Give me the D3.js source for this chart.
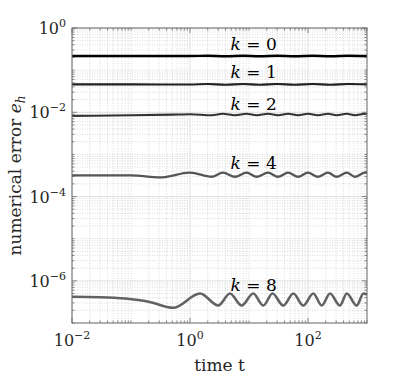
<!DOCTYPE html>
<html lang="en">
<head>
  <meta charset="UTF-8" />
  <script src="https://cdn.jsdelivr.net/npm/d3@7"></script>
  <style>
    body { margin: 0; background: #fff; }
    text { font-family: "DejaVu Serif", serif; fill: #262626; }
  </style>
</head>
<body>
  <svg width="409" height="379"></svg>
  <script>
    // series: time t and error e_h for each k
    const kValues = [0, 1, 2, 4, 8];

    const k0Time = [0.01, 0.1, 1, 2, 4, 8, 15, 30, 60, 120, 240, 480, 1000];
    const k0Err = [0.217, 0.217, 0.216, 0.219, 0.214, 0.220, 0.214, 0.220, 0.214, 0.220, 0.214, 0.220, 0.217];

    const k1Time = [0.01, 0.1, 1, 2, 4, 8, 15, 30, 60, 120, 240, 480, 1000];
    const k1Err = [0.046, 0.046, 0.0455, 0.047, 0.045, 0.047, 0.045, 0.047, 0.045, 0.047, 0.045, 0.047, 0.046];

    const k2Time = [0.01, 0.1, 0.5, 1.0, 2.33, 3.6, 5.8, 9.1, 13.5, 21, 31, 46, 68, 100, 147, 218, 305, 455, 623, 925, 1000];
    const k2Err = [0.0082, 0.0085, 0.0088, 0.0090, 0.0085, 0.0092, 0.0085, 0.0092, 0.0085, 0.0092, 0.0085, 0.0092, 0.0085, 0.0092, 0.0085, 0.0092, 0.0085, 0.0092, 0.0085, 0.0092, 0.0090];

    const k4Time = [0.01, 0.1, 0.31, 1.0, 2.33, 3.6, 5.8, 9.1, 13.5, 21, 31, 46, 68, 100, 147, 218, 305, 455, 623, 925, 1000];
    const k4Err = [3.2e-4, 3.2e-4, 2.84e-4, 3.7e-4, 2.95e-4, 3.7e-4, 2.95e-4, 3.7e-4, 2.95e-4, 3.7e-4, 2.95e-4, 3.7e-4, 2.95e-4, 3.7e-4, 2.95e-4, 3.7e-4, 2.95e-4, 3.7e-4, 2.95e-4, 3.7e-4, 3.65e-4];

    const k8Time = [0.01, 0.03, 0.08, 0.2, 0.52, 1.48, 3.02, 4.76, 7.5, 11.8, 17.5, 25, 38, 56.5, 83, 123, 171, 236, 348, 454, 670, 869, 1000];
    const k8Err = [4.2e-7, 4.1e-7, 3.8e-7, 3.2e-7, 2.3e-7, 5.0e-7, 2.6e-7, 5.0e-7, 2.6e-7, 5.0e-7, 2.6e-7, 5.0e-7, 2.6e-7, 5.0e-7, 2.6e-7, 5.0e-7, 2.6e-7, 5.0e-7, 2.6e-7, 5.0e-7, 2.6e-7, 5.0e-7, 4.7e-7];

    const xTickExp = [-2, 0, 2];
    const yTickExp = [-6, -4, -2, 0];

    const seriesTime = [k0Time, k1Time, k2Time, k4Time, k8Time];
    const seriesErr = [k0Err, k1Err, k2Err, k4Err, k8Err];
    const colors = ["#000000", "#202020", "#333333", "#555555", "#626262"];
    const widths = [2.4, 2.1, 2.1, 2.3, 2.6];

    const svg = d3.select("svg");
    const plotL = 72, plotR = 367, plotT = 28, plotB = 323;

    const x = d3.scaleLog().domain([1e-2, 1e3]).range([plotL, plotR]);
    const y = d3.scaleLog().domain([1e-7, 1]).range([plotB, plotT]);

    // minor values (every 1..9 x decade)
    const xMinor = [];
    for (let e = -2; e < 3; e++) for (let m = 1; m < 10; m++) xMinor.push(m * Math.pow(10, e));
    xMinor.push(1e3);
    const yMinor = [];
    for (let e = -7; e < 0; e++) for (let m = 1; m < 10; m++) yMinor.push(m * Math.pow(10, e));
    yMinor.push(1);

    const isMajorX = v => xTickExp.some(e => Math.abs(Math.log10(v) - e) < 1e-9);
    const isMajorY = v => yTickExp.some(e => Math.abs(Math.log10(v) - e) < 1e-9);

    const grid = svg.append("g");
    // minor grid
    grid.selectAll(".gx").data(xMinor.filter(v => !isMajorX(v))).enter().append("line")
      .attr("x1", d => x(d)).attr("x2", d => x(d)).attr("y1", plotT).attr("y2", plotB)
      .attr("stroke", "#c4c4c4").attr("stroke-width", 0.6).attr("stroke-dasharray", "1,1.5");
    grid.selectAll(".gy").data(yMinor.filter(v => !isMajorY(v))).enter().append("line")
      .attr("y1", d => y(d)).attr("y2", d => y(d)).attr("x1", plotL).attr("x2", plotR)
      .attr("stroke", "#c4c4c4").attr("stroke-width", 0.6).attr("stroke-dasharray", "1,1.5");
    // major grid
    grid.selectAll(".mx").data(xTickExp).enter().append("line")
      .attr("x1", d => x(Math.pow(10, d))).attr("x2", d => x(Math.pow(10, d)))
      .attr("y1", plotT).attr("y2", plotB)
      .attr("stroke", "#e0e0e0").attr("stroke-width", 1);
    grid.selectAll(".my").data(yTickExp).enter().append("line")
      .attr("y1", d => y(Math.pow(10, d))).attr("y2", d => y(Math.pow(10, d)))
      .attr("x1", plotL).attr("x2", plotR)
      .attr("stroke", "#e0e0e0").attr("stroke-width", 1);

    // curves
    const line = d3.line()
      .x(d => x(d[0]))
      .y(d => y(d[1]))
      .curve(d3.curveMonotoneX);

    kValues.forEach((k, i) => {
      const pts = seriesTime[i].map((t, j) => [t, seriesErr[i][j]]);
      svg.append("path")
        .attr("d", line(pts))
        .attr("fill", "none")
        .attr("stroke", colors[i])
        .attr("stroke-width", widths[i])
        .attr("stroke-linejoin", "round");

      const lab = svg.append("text")
        .attr("x", x(12))
        .attr("y", y(seriesErr[i][0]) - 6)
        .attr("text-anchor", "middle")
        .attr("font-size", 17)
        .style("fill", "#000");
      lab.append("tspan").attr("font-style", "italic").text("k");
      lab.append("tspan").text(" = " + k);
    });

    // ticks, inside on all four sides
    const ticks = svg.append("g").attr("stroke", "#5a5a5a").attr("stroke-width", 0.7);
    xMinor.forEach(v => {
      const len = isMajorX(v) ? 5 : 2.5;
      ticks.append("line").attr("x1", x(v)).attr("x2", x(v)).attr("y1", plotB).attr("y2", plotB - len);
      ticks.append("line").attr("x1", x(v)).attr("x2", x(v)).attr("y1", plotT).attr("y2", plotT + len);
    });
    yMinor.forEach(v => {
      const len = isMajorY(v) ? 5 : 2.5;
      ticks.append("line").attr("y1", y(v)).attr("y2", y(v)).attr("x1", plotL).attr("x2", plotL + len);
      ticks.append("line").attr("y1", y(v)).attr("y2", y(v)).attr("x1", plotR).attr("x2", plotR - len);
    });

    // box
    svg.append("rect")
      .attr("x", plotL).attr("y", plotT)
      .attr("width", plotR - plotL).attr("height", plotB - plotT)
      .attr("fill", "none").attr("stroke", "#6a6a6a").attr("stroke-width", 1);

    // tick labels
    const powLabel = (sel, e) => {
      sel.append("tspan").text("10");
      sel.append("tspan").attr("dy", -7).attr("font-size", 11)
        .text(e < 0 ? "\u2212" + (-e) : String(e));
    };
    xTickExp.forEach(e => {
      const t = svg.append("text")
        .attr("x", x(Math.pow(10, e)))
        .attr("y", 346)
        .attr("text-anchor", "middle")
        .attr("font-size", 16);
      powLabel(t, e);
    });
    yTickExp.forEach(e => {
      const t = svg.append("text")
        .attr("x", 66)
        .attr("y", y(Math.pow(10, e)) + 6)
        .attr("text-anchor", "end")
        .attr("font-size", 16);
      powLabel(t, e);
    });

    // axis labels
    svg.append("text")
      .attr("x", (plotL + plotR) / 2)
      .attr("y", 371)
      .attr("text-anchor", "middle")
      .attr("font-size", 17)
      .text("time t");

    const yl = svg.append("text")
      .attr("transform", `translate(21,${(plotT + plotB) / 2}) rotate(-90)`)
      .attr("text-anchor", "middle")
      .attr("font-size", 17);
    yl.append("tspan").text("numerical error ");
    yl.append("tspan").attr("font-style", "italic").text("e");
    yl.append("tspan").attr("font-style", "italic").attr("font-size", 12).attr("dy", 4).text("h");
  </script>
</body>
</html>
